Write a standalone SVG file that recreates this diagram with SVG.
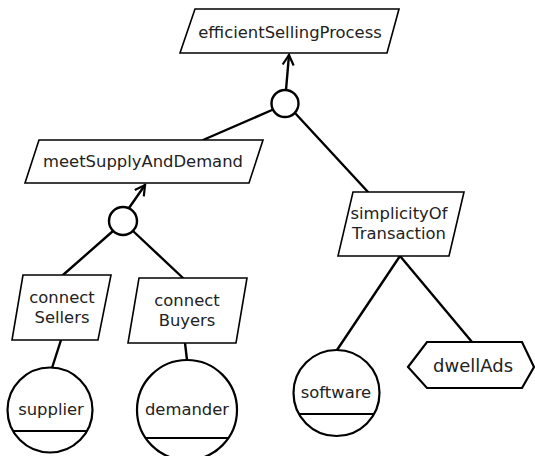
<svg xmlns="http://www.w3.org/2000/svg" width="535" height="456" viewBox="0 0 535 456">
  <style>
    .shape { fill: #ffffff; stroke: #000000; stroke-width: 1.6; }
    .res { fill: #ffffff; stroke: #000000; stroke-width: 2.2; }
    .bar { stroke: #000000; stroke-width: 2.2; }
    .link { fill: none; stroke: #000000; stroke-width: 2.4; stroke-linecap: round; }
    .and { fill: #ffffff; stroke: #000000; stroke-width: 2.4; }
    text { font-family: "DejaVu Sans", "Liberation Sans", sans-serif; font-size: 16.4px; fill: #222222; text-anchor: middle; }
  </style>
  <defs>
    <marker id="openHead" viewBox="0 0 14 14" refX="12" refY="7" markerWidth="14" markerHeight="14" markerUnits="userSpaceOnUse" orient="auto">
      <polyline points="2,1.5 12,7 2,12.5" fill="none" stroke="#000000" stroke-width="2.2"/>
    </marker>
  </defs>

  <!-- connectors -->
  <g id="connectors">
    <line class="link" x1="286" y1="90" x2="289" y2="55" marker-end="url(#openHead)"/>
    <line class="link" x1="272" y1="110" x2="203" y2="140"/>
    <line class="link" x1="295" y1="113" x2="368" y2="192"/>
    <line class="link" x1="129" y1="208" x2="145" y2="185" marker-end="url(#openHead)"/>
    <line class="link" x1="113" y1="231" x2="63" y2="275"/>
    <line class="link" x1="133" y1="231" x2="183" y2="278"/>
    <line class="link" x1="61" y1="340" x2="52" y2="368"/>
    <line class="link" x1="185" y1="343" x2="187" y2="360"/>
    <line class="link" x1="400" y1="256" x2="337" y2="350"/>
    <line class="link" x1="400" y1="256" x2="472" y2="342"/>
    <circle class="and" cx="285" cy="103.5" r="13.5"/>
    <circle class="and" cx="123" cy="221" r="14"/>
  </g>

  <g id="efficientSellingProcess">
    <polygon class="shape" points="195,9 399,9 387,53 180,53"/>
    <text x="290" y="38">efficientSellingProcess</text>
  </g>

  <g id="meetSupplyAndDemand">
    <polygon class="shape" points="39,140 263,140 249,183 25,183"/>
    <text x="143" y="167">meetSupplyAndDemand</text>
  </g>

  <g id="simplicityOfTransaction">
    <polygon class="shape" points="353,192 464,192 449,256 338,256"/>
    <text x="399" y="219">simplicityOf</text>
    <text x="399" y="239">Transaction</text>
  </g>

  <g id="connectSellers">
    <polygon class="shape" points="23,275 111,275 98,340 12,340"/>
    <text x="62" y="303">connect</text>
    <text x="62" y="323">Sellers</text>
  </g>

  <g id="connectBuyers">
    <polygon class="shape" points="139,278 247,278 236,343 128,343"/>
    <text x="187" y="306">connect</text>
    <text x="187" y="326">Buyers</text>
  </g>

  <g id="supplier">
    <circle class="res" cx="50" cy="410" r="42.5"/>
    <line class="bar" x1="13" y1="431" x2="87" y2="431"/>
    <text x="51" y="415">supplier</text>
  </g>

  <g id="demander">
    <circle class="res" cx="187" cy="410" r="50"/>
    <line class="bar" x1="145.6" y1="438" x2="228.4" y2="438"/>
    <text x="187" y="415">demander</text>
  </g>

  <g id="software">
    <circle class="res" cx="336.5" cy="393" r="43"/>
    <line class="bar" x1="299" y1="414" x2="374" y2="414"/>
    <text x="336" y="398">software</text>
  </g>

  <g id="dwellAds">
    <polygon class="res" points="408,367 427,342 522,342 534,367 522,388 427,388"/>
    <text x="473" y="372" style="font-size:18px">dwellAds</text>
  </g>
</svg>
